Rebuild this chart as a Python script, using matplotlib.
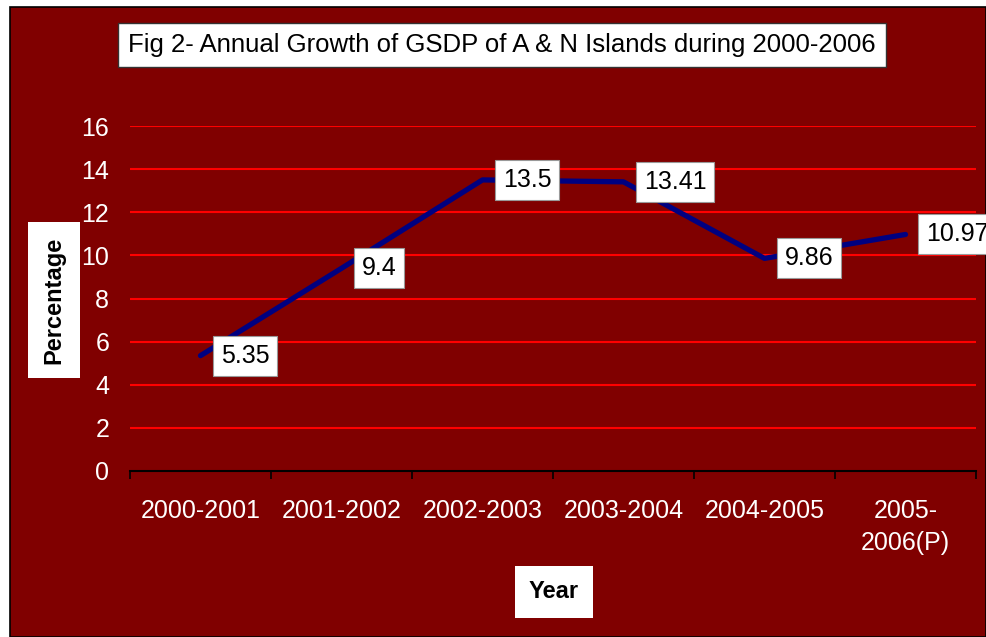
import matplotlib
matplotlib.use("Agg")
import matplotlib.pyplot as plt
from matplotlib.patches import Rectangle

years = ["2000-2001", "2001-2002", "2002-2003", "2003-2004", "2004-2005", "2005-\n2006(P)"]
growth = [5.35, 9.4, 13.5, 13.41, 9.86, 10.97]
labels = ["5.35", "9.4", "13.5", "13.41", "9.86", "10.97"]
yticks = [0, 2, 4, 6, 8, 10, 12, 14, 16]

plt.rcParams['font.family'] = ['Liberation Sans', 'DejaVu Sans']
W, H = 986, 637
fig = plt.figure(figsize=(W / 100, H / 100), dpi=100)
fig.patch.set_facecolor('white')
bg = Rectangle((10 / W, 0), 1 - 10 / W, 1 - 7 / H, transform=fig.transFigure,
               facecolor='#800000', edgecolor='black', linewidth=1.2, zorder=-10)
fig.patches.append(bg)

ax = fig.add_axes([130 / W, 1 - 471 / H, (976 - 130) / W, (471 - 126) / H])
ax.set_zorder(1)
ax.patch.set_visible(False)

x = list(range(len(years)))
ax.plot(x, growth, color='#000080', linewidth=3.8, solid_capstyle='round', zorder=3)

ax.set_xlim(-0.5, len(years) - 0.5)
ax.set_ylim(0, 16)
ax.set_yticks(yticks)
ax.set_yticklabels([str(v) for v in yticks], color='white', fontsize=18)
ax.tick_params(axis='y', length=0, pad=15)
for v in yticks[1:]:
    ax.axhline(v, color='#FF0000', linewidth=1.5, zorder=1)

ax.set_xticks(x)
ax.set_xticklabels(years, color='white', fontsize=18, linespacing=1.45)
ax.tick_params(axis='x', which='major', length=0, pad=20)
ax.set_xticks([i - 0.5 for i in range(len(years) + 1)], minor=True)
ax.tick_params(axis='x', which='minor', length=6, width=1.2, color='black', direction='out')

for s in ['left', 'right', 'top']:
    ax.spines[s].set_visible(False)
ax.spines['bottom'].set_color('black')
ax.spines['bottom'].set_linewidth(1.5)

for xi, yi, lab in zip(x, growth, labels):
    ax.annotate(lab, (xi, yi), xytext=(14.5, 0), textcoords='offset points',
                ha='left', va='center', fontsize=18, color='black', zorder=5,
                annotation_clip=False,
                bbox=dict(boxstyle='square,pad=0.32', facecolor='white', edgecolor='#999999', linewidth=0.8))

fig.text(502 / W, 1 - 45 / H, "Fig 2- Annual Growth of GSDP of A & N Islands during 2000-2006",
         ha='center', va='center', fontsize=18.5, color='black',
         bbox=dict(boxstyle='square,pad=0.4', facecolor='white', edgecolor='#333333', linewidth=1))
fig.text(54 / W, 1 - 300 / H, "Percentage", rotation=90, ha='center', va='center',
         fontsize=17, fontweight='bold', color='black',
         bbox=dict(boxstyle='square,pad=0.6', facecolor='white', edgecolor='none'))
fig.text(554 / W, 1 - 592 / H, "Year", ha='center', va='center',
         fontsize=17, fontweight='bold', color='black',
         bbox=dict(boxstyle='square,pad=0.6', facecolor='white', edgecolor='none'))

fig.savefig('out.png', dpi=100, facecolor=fig.get_facecolor())
